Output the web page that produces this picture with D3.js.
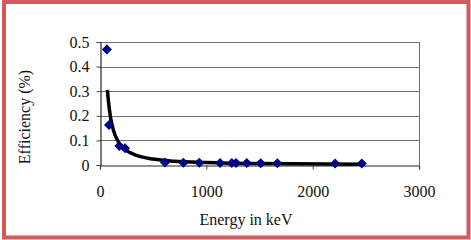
<!DOCTYPE html>
<html>
<head>
<meta charset="utf-8">
<script src="https://cdn.jsdelivr.net/npm/d3@7"></script>
<style>
  body { margin: 0; background: #fff; }
  svg { display: block; font-family: "Liberation Serif", "Times New Roman", serif; }
</style>
</head>
<body>
<div id="chart"></div>
<script>
// measured points (energy keV, efficiency %)
const energies = [65, 85, 182, 235, 611, 784, 934, 1129, 1239, 1279, 1380, 1511, 1668, 2211, 2462];
const efficiencies = [0.47, 0.163, 0.077, 0.068, 0.010, 0.009, 0.009, 0.008, 0.008, 0.008, 0.008, 0.007, 0.007, 0.006, 0.006];

// fitted curve
const fitEnergies = [70, 80, 100, 130, 180, 250, 350, 500, 700, 1000, 1400, 1800, 2462];
const fitEfficiencies = [0.305, 0.256, 0.191, 0.136, 0.089, 0.058, 0.038, 0.024, 0.015, 0.010, 0.006, 0.005, 0.003];

const xTicks = [0, 1000, 2000, 3000];
const yTicks = [0, 0.1, 0.2, 0.3, 0.4, 0.5];

const W = 471, H = 240;
const margin = { top: 42, right: 52, bottom: 75, left: 100 };
const fontSize = '16px';

const svg = d3.select('#chart').append('svg')
  .attr('width', W)
  .attr('height', H);

// red frame
svg.append('rect')
  .attr('x', 4).attr('y', 2)
  .attr('width', 464.5).attr('height', 235.5)
  .attr('fill', 'none')
  .attr('stroke', '#d35a5a')
  .attr('stroke-width', 4);

const x = d3.scaleLinear().domain([0, 3000]).range([margin.left, W - margin.right]);
const y = d3.scaleLinear().domain([0, 0.5]).range([H - margin.bottom, margin.top]);

// gridlines
svg.append('g')
  .selectAll('line')
  .data(yTicks.filter(d => d > 0))
  .join('line')
  .attr('x1', x(0)).attr('x2', x(3000))
  .attr('y1', d => Math.round(y(d)) + 0.5).attr('y2', d => Math.round(y(d)) + 0.5)
  .attr('stroke', '#6e6e6e')
  .attr('stroke-width', 1);

// right frame
svg.append('line')
  .attr('x1', Math.round(x(3000)) + 0.5).attr('x2', Math.round(x(3000)) + 0.5)
  .attr('y1', y(0.5)).attr('y2', y(0))
  .attr('stroke', '#6e6e6e');

// axes
svg.append('g')
  .attr('transform', `translate(0,${Math.round(y(0)) + 0.5})`)
  .call(d3.axisBottom(x).tickValues(xTicks).tickSize(4).tickPadding(16).tickFormat(d3.format('d')))
  .call(a => a.select('.domain').attr('stroke', '#222').attr('stroke-width', 1.2))
  .call(a => a.selectAll('.tick line').attr('stroke', '#444'))
  .call(a => a.selectAll('text').attr('font-size', fontSize).attr('fill', '#111')
    .attr('font-family', '"Liberation Serif", serif'));

svg.append('g')
  .attr('transform', `translate(${Math.round(x(0)) + 0.5},0)`)
  .call(d3.axisLeft(y).tickValues(yTicks).tickSize(4).tickPadding(7).tickFormat(d => d === 0 ? '0' : d3.format('.1f')(d)))
  .call(a => a.select('.domain').attr('stroke', '#222').attr('stroke-width', 1.2))
  .call(a => a.selectAll('.tick line').attr('stroke', '#444'))
  .call(a => a.selectAll('text').attr('font-size', fontSize).attr('fill', '#111')
    .attr('font-family', '"Liberation Serif", serif'));

// fitted curve
const fit = fitEnergies.map((e, i) => [e, fitEfficiencies[i]]);
svg.append('path')
  .datum(fit)
  .attr('fill', 'none')
  .attr('stroke', '#000')
  .attr('stroke-width', 3.5)
  .attr('d', d3.line().x(d => x(d[0])).y(d => y(d[1])).curve(d3.curveMonotoneX));

// data markers
const pts = energies.map((e, i) => [e, efficiencies[i]]);
svg.append('g')
  .selectAll('path')
  .data(pts)
  .join('path')
  .attr('transform', d => `translate(${x(d[0])},${y(d[1])})`)
  .attr('d', d3.symbol().type(d3.symbolDiamond2).size(64))
  .attr('fill', '#000088');

// axis titles
svg.append('text')
  .attr('x', 246).attr('y', 225)
  .attr('text-anchor', 'middle')
  .attr('font-size', fontSize)
  .attr('fill', '#111')
  .text('Energy in keV');

svg.append('text')
  .attr('transform', 'translate(30,117) rotate(-90)')
  .attr('text-anchor', 'middle')
  .attr('font-size', fontSize)
  .attr('fill', '#111')
  .text('Efficiency (%)');
</script>
</body>
</html>
